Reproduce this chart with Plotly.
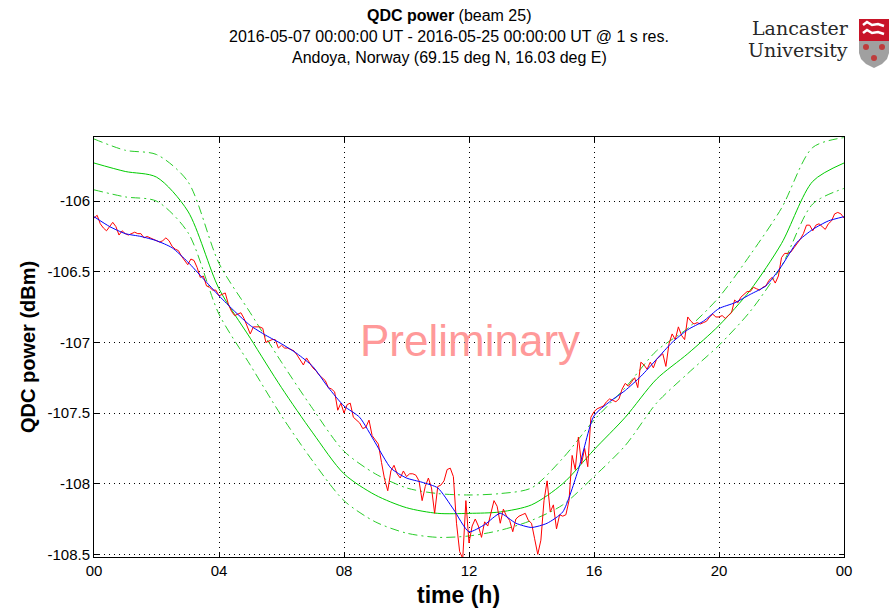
import numpy as np
import plotly.graph_objects as go

# ---- quiet-day curve (QDC) and its bounds, hourly ----
qdc_hours = list(range(25))
qdc_mid = [-105.73, -105.79, -105.83, -106.07, -106.62, -106.97, -107.32, -107.64, -107.93,
           -108.08, -108.17, -108.21, -108.21, -108.20, -108.15, -108.00, -107.76, -107.53,
           -107.26, -107.08, -106.88, -106.63, -106.30, -105.86, -105.73]
qdc_upper = [-105.56, -105.64, -105.67, -105.86, -106.44, -106.79, -107.14, -107.47, -107.77,
             -107.93, -108.03, -108.07, -108.08, -108.07, -108.03, -107.82, -107.55, -107.32,
             -107.06, -106.90, -106.68, -106.38, -106.05, -105.62, -105.55]
qdc_lower = [-105.92, -105.97, -106.00, -106.22, -106.80, -107.16, -107.52, -107.84, -108.12,
             -108.27, -108.35, -108.38, -108.37, -108.33, -108.26, -108.15, -107.95, -107.73,
             -107.43, -107.22, -107.02, -106.78, -106.46, -106.02, -105.91]

# ---- smoothed power, half-hourly ----
smooth_hours = [0, 0.5, 1, 1.5, 2, 2.5, 3, 3.5, 4, 4.5, 5, 5.5, 6, 6.5, 7, 7.5, 8, 8.5, 9, 9.5,
                10, 10.5, 11, 11.5, 12, 12.5, 13, 13.5, 14, 14.5, 15, 15.5, 16, 16.5, 17, 17.5,
                18, 18.5, 19, 19.5, 20, 20.5, 21, 21.5, 22, 22.5, 23, 23.5, 24]
smooth_power = [-106.11, -106.18, -106.23, -106.25, -106.28, -106.33, -106.43, -106.55, -106.67,
                -106.78, -106.88, -106.95, -107.01, -107.08, -107.17, -107.32, -107.45, -107.53,
                -107.71, -107.89, -107.96, -107.99, -108.03, -108.18, -108.34, -108.29, -108.21,
                -108.28, -108.31, -108.28, -108.20, -107.90, -107.52, -107.42, -107.34, -107.24,
                -107.12, -107.00, -106.91, -106.85, -106.76, -106.72, -106.66, -106.60, -106.46,
                -106.29, -106.20, -106.14, -106.11]

# ---- measured power, every 0.1 h ----
raw_power = [
    -106.12, -106.10, -106.16, -106.19, -106.21, -106.18, -106.15, -106.18, -106.24, -106.21,
    -106.23, -106.24, -106.23, -106.22, -106.23, -106.23, -106.26, -106.25, -106.26, -106.27,
    -106.28, -106.29, -106.28, -106.26, -106.28, -106.32, -106.34, -106.35, -106.39, -106.42,
    -106.45, -106.41, -106.42, -106.47, -106.54, -106.53, -106.60, -106.61, -106.63, -106.63,
    -106.67, -106.66, -106.65, -106.73, -106.78, -106.81, -106.80, -106.79, -106.83, -106.88,
    -106.94, -106.89, -106.89, -106.89, -106.90, -107.00, -106.99, -106.98, -106.98, -107.04,
    -107.02, -107.04, -107.04, -107.05, -107.06, -107.09, -107.13, -107.16, -107.11, -107.15,
    -107.18, -107.20, -107.23, -107.25, -107.27, -107.32, -107.33, -107.35, -107.48, -107.43,
    -107.50, -107.44, -107.43, -107.53, -107.55, -107.57, -107.61, -107.60, -107.55, -107.66,
    -107.69, -107.72, -107.85, -107.97, -108.05, -107.91, -107.87, -107.93, -107.96, -107.91,
    -107.95, -107.93, -107.93, -107.94, -107.98, -108.12, -108.02, -107.96, -108.03, -108.21,
    -108.02, -108.01, -107.98, -107.90, -107.89, -107.95, -108.28, -108.48, -108.53, -108.12,
    -108.42, -108.30, -108.25, -108.30, -108.38, -108.27, -108.30, -108.21, -108.12, -108.16,
    -108.28, -108.18, -108.23, -108.26, -108.34, -108.25, -108.23, -108.22, -108.21, -108.26,
    -108.28, -108.39, -108.50, -108.40, -108.12, -107.98, -108.20, -108.15, -108.32, -108.22,
    -108.23, -108.22, -108.12, -107.80, -107.90, -107.67, -107.86, -107.75, -107.88, -107.53,
    -107.49, -107.47, -107.46, -107.45, -107.42, -107.40, -107.41, -107.42, -107.40, -107.33,
    -107.29, -107.31, -107.28, -107.25, -107.32, -107.14, -107.16, -107.19, -107.14, -107.18,
    -107.12, -107.10, -107.08, -107.17, -107.01, -106.94, -106.98, -106.89, -106.95, -106.98,
    -106.82, -106.85, -106.87, -106.86, -106.87, -106.86, -106.85, -106.82, -106.80, -106.82,
    -106.82, -106.81, -106.83, -106.81, -106.79, -106.70, -106.72, -106.68, -106.66, -106.64,
    -106.64, -106.61, -106.62, -106.63, -106.61, -106.60, -106.56, -106.54, -106.58, -106.53,
    -106.40, -106.37, -106.37, -106.36, -106.33, -106.30, -106.27, -106.23, -106.17, -106.17,
    -106.21, -106.17, -106.16, -106.18, -106.20, -106.16, -106.14, -106.09, -106.08, -106.09,
    -106.12]
raw_hours = np.round(np.arange(len(raw_power)) * 0.1, 1)

x_tickvals = [0, 4, 8, 12, 16, 20, 24]
x_ticktext = ["00", "04", "08", "12", "16", "20", "00"]
y_tickvals = [-106, -106.5, -107, -107.5, -108, -108.5]
y_ticktext = ["-106", "-106.5", "-107", "-107.5", "-108", "-108.5"]

W, H = 893, 611
ML, MR, MT, MB = 94, 49, 137, 54
PW, PH = W - ML - MR, H - MT - MB


def px(x):
    return (x - ML) / PW


def py(y):
    return (H - MB - y) / PH


GREEN = "rgb(0,204,0)"
GREEN_DD = "rgb(40,205,40)"
DASHDOT = "9px,4px,2px,4px"

fig = go.Figure()
fig.add_trace(go.Scatter(x=qdc_hours, y=qdc_upper, mode="lines",
                         line=dict(color=GREEN_DD, width=1, dash=DASHDOT, shape="spline", smoothing=0.8)))
fig.add_trace(go.Scatter(x=qdc_hours, y=qdc_lower, mode="lines",
                         line=dict(color=GREEN_DD, width=1, dash=DASHDOT, shape="spline", smoothing=0.8)))
fig.add_trace(go.Scatter(x=qdc_hours, y=qdc_mid, mode="lines",
                         line=dict(color=GREEN, width=1, shape="spline", smoothing=0.8)))
fig.add_trace(go.Scatter(x=raw_hours, y=raw_power, mode="lines",
                         line=dict(color="rgb(255,0,0)", width=1)))
fig.add_trace(go.Scatter(x=smooth_hours, y=smooth_power, mode="lines",
                         line=dict(color="rgb(0,0,255)", width=1, shape="spline", smoothing=0.6)))

axis_common = dict(
    showline=True, linecolor="black", linewidth=1, mirror="ticks",
    ticks="inside", ticklen=5, tickcolor="black", tickwidth=1,
    showgrid=True, gridcolor="black", gridwidth=1, griddash="1px,4px",
    zeroline=False, color="black",
)
fig.update_xaxes(range=[0, 24], tickvals=x_tickvals, ticktext=x_ticktext,
                 tickfont=dict(family="Liberation Sans Narrow, Liberation Sans, Arial", size=15, color="black"),
                 **axis_common)
fig.update_yaxes(range=[-108.519, -105.546], tickvals=y_tickvals, ticktext=y_ticktext,
                 tickfont=dict(family="Liberation Sans, Arial", size=15, color="black"),
                 **axis_common)

ann = []
title_font = dict(family="Liberation Sans, Arial", size=16, color="black")
ann.append(dict(x=px(449), y=py(16), text="<b>QDC power</b> (beam 25)", font=title_font))
ann.append(dict(x=px(449), y=py(37),
                text="2016-05-07 00:00:00 UT - 2016-05-25 00:00:00 UT @ 1 s res.", font=title_font))
ann.append(dict(x=px(449), y=py(57), text="Andoya, Norway (69.15 deg N, 16.03 deg E)", font=title_font))
ann.append(dict(x=px(458), y=py(595), text="<b>time (h)</b>",
                font=dict(family="Liberation Sans, Arial", size=23, color="black")))
ann.append(dict(x=px(28), y=py(347), text="<b>QDC power (dBm)</b>", textangle=-90,
                font=dict(family="Liberation Sans, Arial", size=20, color="black")))
ann.append(dict(x=px(470), y=py(340), text="Preliminary",
                font=dict(family="Liberation Sans, Arial", size=44, color="rgb(255,153,153)")))
logo_font = dict(family="DejaVu Serif, Liberation Serif", size=19, color="rgb(40,40,40)")
ann.append(dict(x=px(800), y=py(28), text="Lancaster", font=logo_font))
ann.append(dict(x=px(798), y=py(50), text="University", font=logo_font))
for a in ann:
    a.update(xref="paper", yref="paper", showarrow=False, xanchor="center", yanchor="middle")


# university crest
def path(points, close=True):
    s = "M " + " L ".join(f"{px(a)},{py(b)}" for a, b in points)
    return s + (" Z" if close else "")


shapes = []
shield_bottom = [(859, 41), (889, 41), (889, 53), (887, 59), (882, 64), (874, 68),
                 (866, 64), (861, 59), (859, 53)]
shapes.append(dict(type="path", path=path(shield_bottom), fillcolor="rgb(160,160,160)",
                   line=dict(width=0)))
shapes.append(dict(type="path", path=path([(859, 19), (889, 19), (889, 41), (859, 41)]),
                   fillcolor="rgb(200,20,40)", line=dict(width=0)))
for yy in (25, 33):
    shapes.append(dict(type="path", path=path([(863, yy), (867, yy - 3), (872, yy), (878, yy - 1),
                                               (884, yy + 1)], close=False),
                       line=dict(color="white", width=2.5)))
for cx, cy in ((866, 47), (882, 47), (874, 58)):
    shapes.append(dict(type="circle", x0=px(cx - 3), x1=px(cx + 3), y0=py(cy + 3), y1=py(cy - 3),
                       fillcolor="rgb(190,60,60)", line=dict(width=0)))
for s in shapes:
    s.setdefault("xref", "paper")
    s.setdefault("yref", "paper")

fig.update_layout(
    width=W, height=H, margin=dict(l=ML, r=MR, t=MT, b=MB, autoexpand=False),
    paper_bgcolor="white", plot_bgcolor="white", showlegend=False,
    annotations=ann, shapes=shapes,
)

fig.write_html("out.html")
